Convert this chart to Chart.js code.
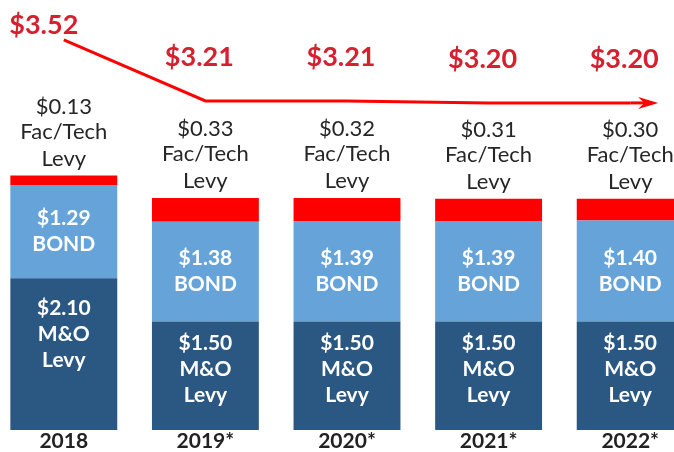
<!DOCTYPE html>
<html>
<head>
<meta charset="utf-8">
<script src="https://cdn.jsdelivr.net/npm/chart.js@4"></script>
<style>
  html, body { margin: 0; padding: 0; background: #fff; overflow: hidden; }
  #wrap { position: absolute; left: -7px; top: 0; width: 708px; height: 452px; }
</style>
</head>
<body>
<div id="wrap"><canvas id="levyChart"></canvas></div>
<script>
/* ===== Levy rate chart ===== */

const years = ['2018', '2019*', '2020*', '2021*', '2022*'];
const moLevy = [2.10, 1.50, 1.50, 1.50, 1.50];
const bondLevy = [1.29, 1.38, 1.39, 1.39, 1.40];
const facTechLevy = [0.13, 0.33, 0.32, 0.31, 0.30];
const totalRate = [3.52, 3.21, 3.21, 3.20, 3.20];

const FONT = 'Lato, "Open Sans", sans-serif';
const money = v => '$' + v.toFixed(2);

const labelPlugin = {
  id: 'levyLabels',
  afterDatasetsDraw(chart) {
    const ctx = chart.ctx;
    const moMeta = chart.getDatasetMeta(0);
    const bondMeta = chart.getDatasetMeta(1);
    const facMeta = chart.getDatasetMeta(2);
    const lineMeta = chart.getDatasetMeta(3);
    ctx.save();
    ctx.textAlign = 'center';
    ctx.textBaseline = 'middle';

    years.forEach((y, i) => {
      // white labels inside the bars
      ctx.fillStyle = '#ffffff';
      ctx.font = 'bold 21px ' + FONT;
      const b = bondMeta.data[i];
      const bMid = (b.y + b.base) / 2;
      ctx.fillText(money(bondLevy[i]), b.x, bMid - 13);
      ctx.fillText('BOND', b.x, bMid + 13);

      const m = moMeta.data[i];
      const mMid = m.y + 26 + (m.base - m.y) * 0.2;
      ctx.fillText(money(moLevy[i]), m.x, mMid - 26);
      ctx.fillText('M&O', m.x, mMid);
      ctx.fillText('Levy', m.x, mMid + 26);

      // fac/tech label above the bar
      const f = facMeta.data[i];
      ctx.fillStyle = '#262626';
      ctx.font = '22px ' + FONT;
      ctx.fillText(money(facTechLevy[i]), f.x, f.y - 69);
      ctx.fillText('Fac/Tech', f.x, f.y - 44);
      ctx.fillText('Levy', f.x, f.y - 17);

      // total rate in red
      const p = lineMeta.data[i];
      ctx.fillStyle = '#d6202f';
      ctx.font = 'bold 27px ' + FONT;
      if (i === 0) {
        ctx.fillText(money(totalRate[i]), p.x - 20, p.y - 15);
      } else {
        ctx.fillText(money(totalRate[i]), p.x - 6, p.y - 44);
      }
    });

    // arrow continuing past the last point
    const last = lineMeta.data[lineMeta.data.length - 1];
    const tipX = last.x + 28;
    ctx.strokeStyle = '#ff0000';
    ctx.lineWidth = 3;
    ctx.beginPath();
    ctx.moveTo(last.x, last.y);
    ctx.lineTo(tipX - 6, last.y);
    ctx.stroke();
    ctx.fillStyle = '#ff0000';
    ctx.beginPath();
    ctx.moveTo(tipX, last.y);
    ctx.lineTo(tipX - 20, last.y - 6);
    ctx.lineTo(tipX - 14, last.y);
    ctx.lineTo(tipX - 20, last.y + 6);
    ctx.closePath();
    ctx.fill();
    ctx.restore();
  }
};

new Chart(document.getElementById('levyChart'), {
  type: 'bar',
  data: {
    labels: years,
    datasets: [
      { label: 'M&O Levy', data: moLevy, backgroundColor: '#2a5883', stack: 'rate' },
      { label: 'Bond', data: bondLevy, backgroundColor: '#65a3d8', stack: 'rate' },
      { label: 'Fac/Tech Levy', data: facTechLevy, backgroundColor: '#ff0000', stack: 'rate' },
      {
        type: 'line', label: 'Total', data: totalRate, yAxisID: 'y2',
        borderColor: '#ff0000', borderWidth: 3, pointRadius: 0, tension: 0, fill: false
      }
    ]
  },
  options: {
    responsive: true,
    maintainAspectRatio: false,
    animation: false,
    layout: { padding: 0 },
    datasets: { bar: { barPercentage: 1, categoryPercentage: 0.755 } },
    plugins: { legend: { display: false }, tooltip: { enabled: false } },
    scales: {
      x: {
        stacked: true,
        grid: { display: false, drawTicks: false },
        border: { display: false },
        ticks: { padding: 0, color: '#222', font: { family: FONT, size: 21, weight: 'bold', lineHeight: 1.05 } }
      },
      y: { stacked: true, display: false, min: 0, max: 5.95 },
      y2: { display: false, min: 1.538, max: 3.723 }
    }
  },
  plugins: [labelPlugin]
});
</script>
</body>
</html>
